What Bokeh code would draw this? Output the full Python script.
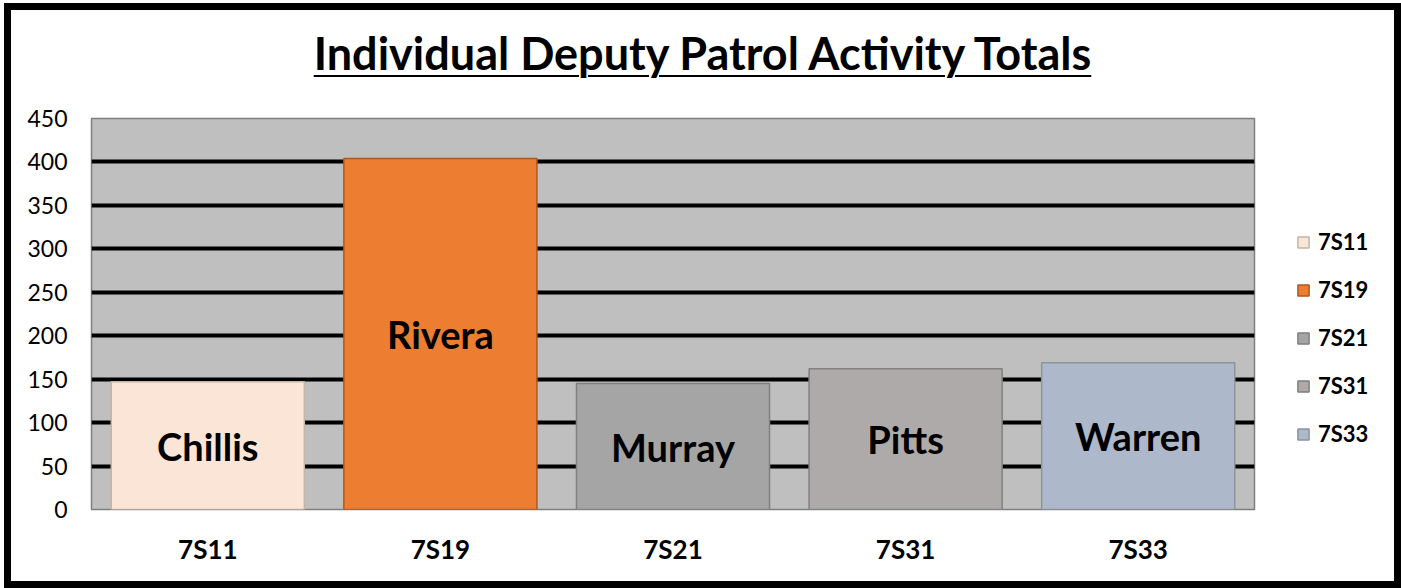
from bokeh.plotting import figure
from bokeh.models import ColumnDataSource, FactorRange, Range1d, FixedTicker, Legend, LegendItem, Div, BoxAnnotation
from bokeh.layouts import column, row
from bokeh.core.properties import value
from bokeh.embed import file_html
from bokeh.resources import INLINE

title_text = "Individual Deputy Patrol Activity Totals"
codes = ["7S11", "7S19", "7S21", "7S31", "7S33"]
names = ["Chillis", "Rivera", "Murray", "Pitts", "Warren"]
totals = [147, 404, 145, 162, 169]
fill_colors = ["#FBE5D6", "#ED7D31", "#A5A5A5", "#AEAAAA", "#ADB9CA"]
line_colors = ["#c4b5aa", "#b0591f", "#808080", "#808080", "#8c949e"]
y_ticks = [0, 50, 100, 150, 200, 250, 300, 350, 400, 450]

source = ColumnDataSource(dict(
    code=codes, name=names, total=totals,
    mid=[t / 2 for t in totals],
    fill=fill_colors, line=line_colors,
))

W_IN = 1383
DIV_H = 90
FIG_H = 571 - DIV_H
MAIN_W = 1245
LEG_W = W_IN - MAIN_W

p = figure(
    x_range=FactorRange(factors=codes, range_padding=0),
    y_range=Range1d(0, 450),
    width=MAIN_W, height=FIG_H,
    output_backend="svg", toolbar_location=None,
    min_border_left=80, min_border_right=2,
    min_border_top=18, min_border_bottom=72,
    background_fill_color="#BFBFBF", border_fill_color="white",
)
p.outline_line_color = "#7f7f7f"
p.outline_line_width = 1.5

r = p.vbar(x="code", top="total", width=0.83, source=source,
           fill_color="fill", line_color="line", line_width=1.5)

p.text(x="code", y="mid", text="name", source=source,
       text_align="center", text_baseline="middle",
       text_font=value("Lato"), text_font_style="bold",
       text_font_size="38px", text_color="black")

p.xgrid.grid_line_color = None
p.ygrid.ticker = FixedTicker(ticks=y_ticks[1:])
p.ygrid.grid_line_color = "black"
p.ygrid.grid_line_width = 4

p.yaxis.ticker = FixedTicker(ticks=y_ticks)
p.yaxis.axis_line_color = None
p.yaxis.major_tick_line_color = None
p.yaxis.minor_tick_line_color = None
p.yaxis.major_label_text_font = "Lato"
p.yaxis.major_label_text_font_size = "23px"
p.yaxis.major_label_text_color = "black"
p.yaxis.major_label_standoff = 18

p.xaxis.axis_line_color = None
p.xaxis.major_tick_line_color = None
p.xaxis.minor_tick_line_color = None
p.xaxis.major_label_text_font = "Lato"
p.xaxis.major_label_text_font_style = "bold"
p.xaxis.major_label_text_font_size = "26px"
p.xaxis.major_label_text_color = "black"
p.xaxis.major_label_standoff = 17

# Separate narrow panel holding the legend (its bars lie outside its view)
lf = figure(
    x_range=Range1d(-2, -1), y_range=FactorRange(factors=codes),
    width=LEG_W, height=FIG_H,
    output_backend="svg", toolbar_location=None,
    x_axis_location=None, y_axis_location=None,
    min_border=0, outline_line_color=None,
    background_fill_color="white", border_fill_color="white",
)
lf.grid.grid_line_color = None
lr = lf.hbar(y="code", right="total", height=0.83, source=source,
             fill_color="fill", line_color="line", line_width=1.5)
lf.add_layout(BoxAnnotation(fill_color="white", fill_alpha=1.0, line_color=None))

legend = Legend(
    items=[LegendItem(label=c, renderers=[lr], index=i) for i, c in enumerate(codes)],
    location=(40, 62), orientation="vertical",
    label_text_font="Lato", label_text_font_style="bold",
    label_text_font_size="22px", label_text_color="black",
    glyph_width=14, glyph_height=14, label_height=24, label_standoff=8,
    spacing=21, padding=0, margin=0,
    border_line_color=None, background_fill_alpha=0,
)
lf.add_layout(legend, "center")

title_div = Div(
    text=('<div style="width:%dpx;text-align:center;font-family:Lato;font-weight:bold;'
          'font-size:45px;line-height:45px;padding-top:21px;color:black;">'
          '<span style="text-decoration:underline;text-decoration-thickness:2px;'
          'text-underline-offset:5px;">%s</span></div>') % (W_IN, title_text),
    width=W_IN, height=DIV_H, margin=0,
)

layout = column(title_div, row(p, lf), styles={"border": "7px solid black", "background": "white",
                                              "margin-left": "4px", "margin-top": "3px"})

open("out.html", "w").write(file_html(layout, INLINE))
